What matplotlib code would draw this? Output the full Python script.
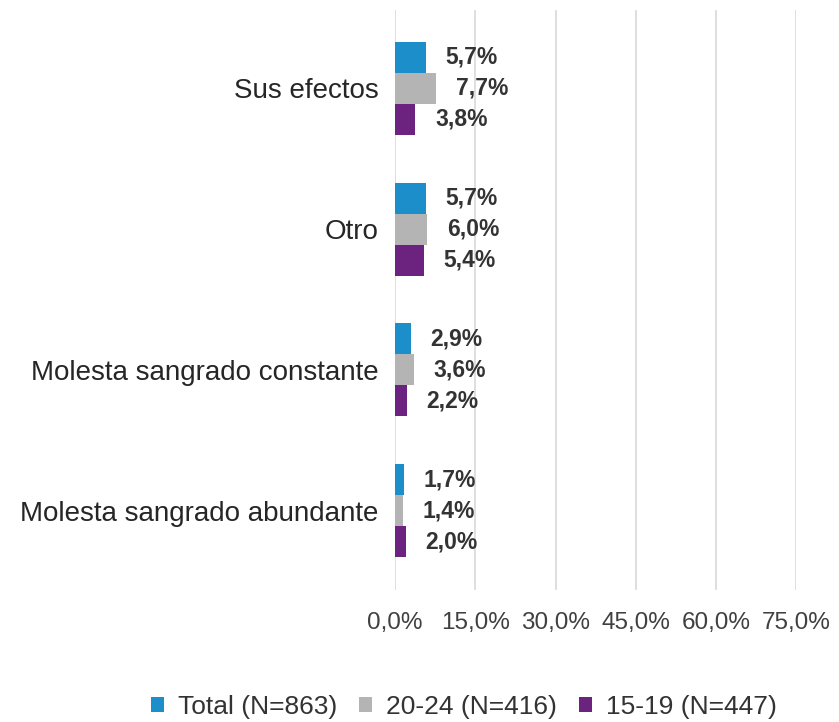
import numpy as np
import matplotlib.pyplot as plt

plt.rcParams['font.family'] = ['Liberation Sans', 'DejaVu Sans']

# categories bottom -> top
categories = ['Molesta sangrado abundante', 'Molesta sangrado constante', 'Otro', 'Sus efectos']
series_names = ['Total (N=863)', '20-24 (N=416)', '15-19 (N=447)']
total = [1.7, 2.9, 5.7, 5.7]
age_20_24 = [1.4, 3.6, 6.0, 7.7]
age_15_19 = [2.0, 2.2, 5.4, 3.8]
colors = ['#1c8fca', '#b4b4b4', '#6b237f']
xticks = [0, 15, 30, 45, 60, 75]

fig = plt.figure(figsize=(8.39, 7.22), dpi=100)
ax = fig.add_axes([0.471, 0.183, 0.478, 0.803])

y = np.arange(len(categories))
h = 0.22
offsets = [h, 0, -h]
for vals, name, col, off in zip([total, age_20_24, age_15_19], series_names, colors, offsets):
    bars = ax.barh(y + off, vals, height=h, color=col, label=name, zorder=3)
    for b, v in zip(bars, vals):
        ax.annotate(f'{v:.1f}%'.replace('.', ','), (v, b.get_y() + h / 2),
                    xytext=(14, 0), textcoords='offset points', va='center', ha='left',
                    fontsize=16.5, color='#333333', fontweight='bold')

ax.set_xlim(0, 75)
ax.set_ylim(-0.56, 3.553)
ax.set_xticks(xticks)
ax.set_xticklabels([f'{t:.1f}%'.replace('.', ',') for t in xticks], fontsize=17.5, color='#404040')
ax.set_yticks(y)
ax.set_yticklabels(categories, fontsize=20, color='#262626')
ax.tick_params(length=0, axis='both')
ax.tick_params(axis='x', pad=16)
ax.tick_params(axis='y', pad=12)
ax.grid(axis='x', color='#d9d9d9', linewidth=1.2, zorder=0)
for s in ax.spines.values():
    s.set_visible(False)

fig.legend(loc='center', bbox_to_anchor=(0.553, 0.021), ncol=3, frameon=False,
           fontsize=19, handlelength=0.5, handleheight=0.5, handletextpad=0.53,
           columnspacing=0.83, labelcolor='#333333')

fig.savefig('out.png', dpi=100)
